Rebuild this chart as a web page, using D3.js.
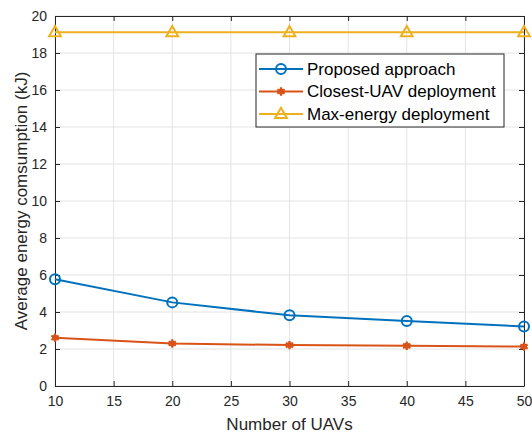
<!DOCTYPE html>
<html>
<head>
<meta charset="utf-8">
<script src="https://cdn.jsdelivr.net/npm/d3@7"></script>
<style>
  body { margin: 0; background: #fff; }
  svg { font-family: "Liberation Sans", Arial, sans-serif; }
</style>
</head>
<body>
<svg id="chart" width="532" height="433"></svg>
<script>
// chart data
const uavCounts = [10, 20, 30, 40, 50];
const proposed = [5.77, 4.52, 3.82, 3.51, 3.22];
const closestUav = [2.61, 2.30, 2.21, 2.17, 2.13];
const maxEnergy = [19.12, 19.12, 19.12, 19.12, 19.12];
const seriesNames = ["Proposed approach", "Closest-UAV deployment", "Max-energy deployment"];
const xTicks = [10, 15, 20, 25, 30, 35, 40, 45, 50];
const yTicks = [0, 2, 4, 6, 8, 10, 12, 14, 16, 18, 20];

const colors = ["#0072BD", "#D95319", "#EDB120"];
const markers = ["circle", "star", "triangle"];

const svg = d3.select("#chart");
const margin = {left: 55, right: 8, top: 16, bottom: 47};
const W = 532, H = 433;

const x = d3.scaleLinear().domain([10, 50]).range([margin.left, W - margin.right]);
const y = d3.scaleLinear().domain([0, 20]).range([H - margin.bottom, margin.top]);

const axisColor = "#262626";

// grid
const grid = svg.append("g");
grid.selectAll(".vg").data(xTicks).join("line")
    .attr("x1", d => x(d)).attr("x2", d => x(d))
    .attr("y1", y(0)).attr("y2", y(20))
    .attr("stroke", "#e3e3e3").attr("stroke-width", 1);
grid.selectAll(".hg").data(yTicks).join("line")
    .attr("y1", d => y(d)).attr("y2", d => y(d))
    .attr("x1", x(10)).attr("x2", x(50))
    .attr("stroke", "#e3e3e3").attr("stroke-width", 1);

// axes (ticks inside, box)
const tickLen = 5;
const xAxis = d3.axisBottom(x).tickValues(xTicks).tickSizeInner(-tickLen).tickSizeOuter(0).tickPadding(10);
const yAxis = d3.axisLeft(y).tickValues(yTicks).tickSizeInner(-tickLen).tickSizeOuter(0).tickPadding(8);
const xTop = d3.axisTop(x).tickValues(xTicks).tickSizeInner(-tickLen).tickSizeOuter(0).tickFormat("");
const yRight = d3.axisRight(y).tickValues(yTicks).tickSizeInner(-tickLen).tickSizeOuter(0).tickFormat("");

function styleAxis(g) {
    g.selectAll("path").attr("stroke", axisColor);
    g.selectAll("line").attr("stroke", axisColor);
    g.selectAll("text").attr("fill", axisColor).style("font-size", "14px")
        .style("font-family", "'Liberation Sans', Arial, sans-serif");
}

svg.append("g").attr("transform", `translate(0,${y(0)})`).call(xAxis).call(styleAxis);
svg.append("g").attr("transform", `translate(${x(10)},0)`).call(yAxis).call(styleAxis);
svg.append("g").attr("transform", `translate(0,${y(20)})`).call(xTop).call(styleAxis);
svg.append("g").attr("transform", `translate(${x(50)},0)`).call(yRight).call(styleAxis);

// markers
function drawMarker(g, type, color) {
    if (type === "circle") {
        g.append("circle").attr("r", 5).attr("fill", "none").attr("stroke", color).attr("stroke-width", 2);
    } else if (type === "star") {
        g.append("path").attr("d", d3.symbol(d3.symbolAsterisk, 50)())
            .attr("fill", "none").attr("stroke", color).attr("stroke-width", 2.2);
        g.append("circle").attr("r", 3).attr("fill", color);
    } else {
        g.append("path").attr("d", d3.symbol(d3.symbolTriangle, 60)())
            .attr("transform", "translate(0,0.5)")
            .attr("fill", "none").attr("stroke", color).attr("stroke-width", 2);
    }
}

const allSeries = [proposed, closestUav, maxEnergy];
const line = d3.line().x((d, i) => x(uavCounts[i])).y(d => y(d));

allSeries.forEach((vals, s) => {
    svg.append("path").datum(vals)
        .attr("d", line)
        .attr("fill", "none")
        .attr("stroke", colors[s])
        .attr("stroke-width", 2);
    vals.forEach((v, i) => {
        const g = svg.append("g").attr("transform", `translate(${x(uavCounts[i])},${y(v)})`);
        drawMarker(g, markers[s], colors[s]);
    });
});

// legend
const lg = svg.append("g").attr("transform", "translate(256,54)");
lg.append("rect").attr("width", 248).attr("height", 73)
    .attr("fill", "#fff").attr("stroke", axisColor).attr("stroke-width", 1);
seriesNames.forEach((name, i) => {
    const rowY = 15 + i * 22.5;
    lg.append("line").attr("x1", 3).attr("x2", 47).attr("y1", rowY).attr("y2", rowY)
        .attr("stroke", colors[i]).attr("stroke-width", 2);
    const m = lg.append("g").attr("transform", `translate(25,${rowY})`);
    drawMarker(m, markers[i], colors[i]);
    lg.append("text").attr("x", 51).attr("y", rowY).attr("dy", "0.35em")
        .attr("fill", "#000").style("font-size", "17px").text(name);
});

// axis labels
svg.append("text").attr("x", (x(10) + x(50)) / 2).attr("y", 430)
    .attr("text-anchor", "middle").attr("fill", axisColor).style("font-size", "17px")
    .text("Number of UAVs");
svg.append("text").attr("transform", `translate(27,${(y(0) + y(20)) / 2}) rotate(-90)`)
    .attr("text-anchor", "middle").attr("fill", axisColor).style("font-size", "17px")
    .text("Average energy comsumption (kJ)");
</script>
</body>
</html>
